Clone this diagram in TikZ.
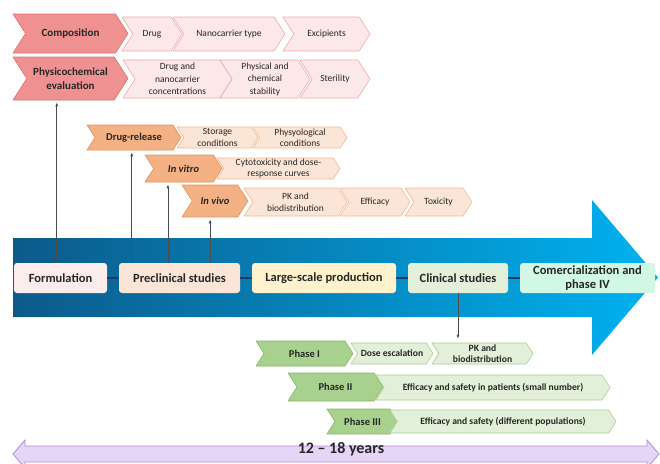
\documentclass[tikz,border=0pt]{standalone}
\usepackage{fontspec}
\setmainfont{Carlito}
\usepackage{tikz}
\usetikzlibrary{arrows.meta, calc}
\usepackage{xcolor}

\definecolor{compdark}{RGB}{240,145,145}
\definecolor{compline}{RGB}{222,112,112}
\definecolor{complight}{RGB}{252,232,232}
\definecolor{complightline}{RGB}{238,170,170}
\definecolor{reldark}{RGB}{244,177,131}
\definecolor{relline}{RGB}{226,146,96}
\definecolor{rellight}{RGB}{251,229,214}
\definecolor{rellightline}{RGB}{240,186,148}
\definecolor{phdark}{RGB}{169,209,142}
\definecolor{phline}{RGB}{135,180,105}
\definecolor{phlight}{RGB}{226,240,217}
\definecolor{phlightline}{RGB}{172,206,148}
\definecolor{formfill}{RGB}{253,236,236}
\definecolor{precfill}{RGB}{251,229,214}
\definecolor{largefill}{RGB}{255,242,204}
\definecolor{clinfill}{RGB}{226,240,217}
\definecolor{commfill}{RGB}{208,248,228}
\definecolor{bluedark}{RGB}{12,90,138}
\definecolor{bluebright}{RGB}{0,178,240}
\definecolor{navy}{RGB}{31,56,100}
\definecolor{lilac}{RGB}{231,213,247}
\definecolor{lilacline}{RGB}{178,140,215}

% chevron: style, name, x left, x right, y top, y bottom, text
\newcommand{\chev}[7]{%
  \pgfmathsetmacro{\chd}{0.32*(#6-#5)}%
  \pgfmathsetmacro{\chm}{(#5+#6)/2}%
  \pgfmathsetmacro{\chw}{#4-#3}%
  \pgfmathsetmacro{\chh}{#6-#5}%
  \draw[#1, line join=round] (#3,#5) -- ({#4-\chd},#5) -- (#4,\chm) -- ({#4-\chd},#6)
    -- (#3,#6) -- ({#3+\chd},\chm) -- cycle;
  \node[#1, draw=none, fill=none, align=center, inner sep=0pt,
    minimum width=\chw pt, minimum height=\chh pt] (#2) at ({(#3+#4)/2},\chm) {#7};%
}

\begin{document}
\begin{tikzpicture}[x=1pt, y=-1pt,
    every node/.style={text=black!85},
    redmain/.style={fill=compdark, draw=compline, line width=0.6pt,
      font=\fontsize{11}{13.5}\selectfont\bfseries},
    redsub/.style={fill=complight, draw=complightline, line width=0.6pt,
      font=\fontsize{9.5}{12.5}\selectfont},
    orgmain/.style={fill=reldark, draw=relline, line width=0.6pt,
      font=\fontsize{10.5}{12}\selectfont\bfseries},
    orgsub/.style={fill=rellight, draw=rellightline, line width=0.6pt,
      font=\fontsize{9.5}{11.5}\selectfont},
    grnmain/.style={fill=phdark, draw=phline, line width=0.6pt,
      font=\fontsize{10.5}{12}\selectfont\bfseries},
    grnsub/.style={fill=phlight, draw=phlightline, line width=0.6pt,
      font=\fontsize{9.6}{11}\selectfont\bfseries},
    mainbox/.style={rounded corners=3pt, minimum height=30pt, inner sep=2pt,
      align=center, font=\fontsize{12.5}{14}\selectfont\bfseries},
    link/.style={navy, line width=1.6pt},
    uparr/.style={black!70, line width=0.8pt, -{Latex[length=4pt,width=3pt]}, shorten >=2pt}]

    \useasboundingbox (0,0) rectangle (660,463);
    \clip (0,0) rectangle (660,463);

    % Seta principal (gradiente)
    \shade[left color=bluedark, right color=bluebright]
      (13,238) -- (592,238) -- (592,200) -- (658,277.5) -- (592,355)
      -- (592,317) -- (13,317) -- cycle;

    % Etapas sobre a seta
    \node[mainbox, fill=formfill, minimum width=93pt] (form) at (60.5,278) {Formulation};
    \node[mainbox, fill=precfill, minimum width=121pt] (precl) at (179.5,278) {Preclinical studies};
    \node[mainbox, fill=largefill, minimum width=144pt] (large) at (324,278) {Large-scale production};
    \node[mainbox, fill=clinfill, minimum width=100pt] (clin) at (458,278) {Clinical studies};
    \node[mainbox, fill=commfill, minimum width=135pt] (comm) at (587.5,278) {Comercialization and\\phase IV};

    \draw[link] (form) -- (precl);
    \draw[link] (precl) -- (large);
    \draw[link] (large) -- (clin);
    \draw[link] (clin) -- (comm);

    % Formulacao
    \chev{redmain}{comp}{13}{128}{14}{53}{Composition}
    \chev{redsub}{drug}{122}{182}{17}{51}{Drug}
    \chev{redsub}{nano}{173}{285}{17}{51}{Nanocarrier type}
    \chev{redsub}{excp}{283}{370}{17}{51}{Excipients}
    \chev{redmain}{phys}{13}{128}{57}{100}{Physicochemical\\evaluation}
    \chev{redsub}{conc}{123}{232}{60}{98}{Drug and\\nanocarrier\\concentrations}
    \chev{redsub}{stab}{220}{310}{60}{98}{Physical and\\chemical\\stability}
    \chev{redsub}{ster}{300}{370}{60}{98}{Sterility}

    % Estudos pre-clinicos
    \chev{orgmain}{drel}{87}{181}{125}{150}{Drug-release}
    \chev{orgsub}{stor}{177}{258}{127}{148}{Storage\\conditions}
    \chev{orgsub}{phyc}{253}{347}{127}{148}{Physyological\\conditions}
    \chev{orgmain}{invt}{145}{222}{155}{182}{\itshape In vitro}
    \chev{orgsub}{cyto}{217}{340}{158}{179}{Cytotoxicity and dose-\\response curves}
    \chev{orgmain}{invv}{182}{248}{185}{217}{\itshape In vivo}
    \chev{orgsub}{pkbio}{244}{347}{188}{216}{PK and\\biodistribution}
    \chev{orgsub}{effi}{340}{410}{188}{216}{Efficacy}
    \chev{orgsub}{toxi}{405}{472}{188}{216}{Toxicity}

    % Estudos clinicos
    \chev{grnmain}{ph1}{256}{353}{341}{366}{Phase I}
    \chev{grnsub}{dose}{351}{433}{343}{364}{Dose escalation}
    \chev{grnsub}{pkcl}{432}{533}{343}{364}{PK and\\biodistribution}
    \chev{grnmain}{ph2}{288}{383}{373}{401}{Phase II}
    \chev{grnsub}{eff2}{376}{610}{375}{400}{Efficacy and safety in patients (small number)}
    \chev{grnmain}{ph3}{327}{398}{409}{434}{Phase III}
    \chev{grnsub}{eff3}{390}{616}{410}{433}{Efficacy and safety (different populations)}

    % Setas verticais
    \coordinate (u1) at ($(form.north west)!.46!(form.north east)$);
    \coordinate (u2) at ($(precl.north west)!.107!(precl.north east)$);
    \coordinate (u3) at ($(precl.north west)!.405!(precl.north east)$);
    \coordinate (u4) at ($(precl.north west)!.752!(precl.north east)$);
    \draw[uparr] (u1) -- (u1 |- phys.south);
    \draw[uparr] (u2) -- (u2 |- drel.south);
    \draw[uparr] (u3) -- (u3 |- invt.south);
    \draw[uparr] (u4) -- (u4 |- invv.south);
    \draw[uparr, shorten >=4pt] (clin.south) -- (clin.south |- pkcl.north);

    % Linha do tempo
    \draw[fill=lilac, draw=lilacline, line width=0.8pt]
      (13,454) -- (25,440) -- (25,446) -- (647,446) -- (647,440) -- (659,454)
      -- (647,468) -- (647,462) -- (25,462) -- (25,468) -- cycle;
    \node[anchor=base, font=\fontsize{16}{18}\selectfont\bfseries] (years) at (341,453) {12 -- 18 years};
\end{tikzpicture}
\end{document}
